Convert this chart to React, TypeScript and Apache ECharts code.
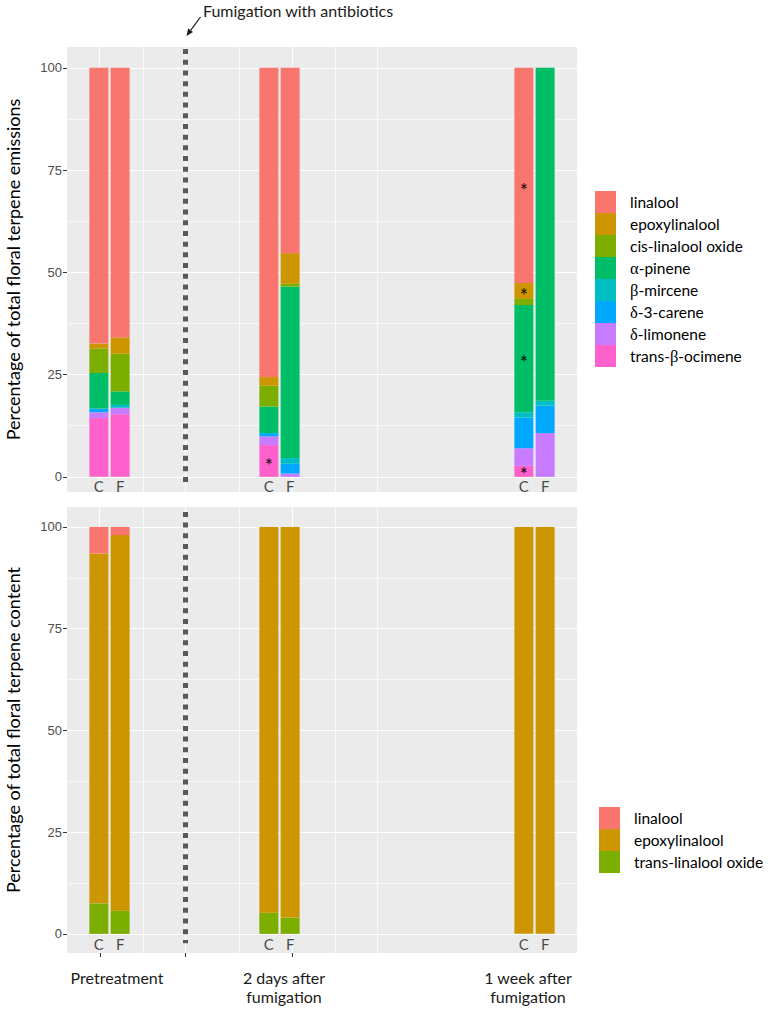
import React, { useEffect, useRef } from "react";
import * as echarts from "echarts";

const FONT = "Lato, 'Open Sans', sans-serif";

// x layout: 24 equal slots across each panel; bars sit in these slots
const slotCount = 24;
const slotNames = Array.from({ length: slotCount }, (_, i) => "s" + i);
const samples = ["C", "F", "C", "F", "C", "F"];
const sampleSlot = [1, 2, 9, 10, 21, 22];
// decorations on a 0..510 value scale spanning each panel
const groupLabels = ["Pretreatment", "2 days after\nfumigation", "1 week after\nfumigation"];
const groupLabelX = [50, 217, 461];
const groupTickX = [33, 118.5, 225];
const majorGridX = [32.5, 118.5, 225.5];
const minorGridX = [76, 172.5, 268, 310];
const fumigationX = 118.5;
const yTicks = [0, 25, 50, 75, 100];
const yMinor = [12.5, 37.5, 62.5, 87.5];

// emissions (top panel), % per sample [preC, preF, 2dC, 2dF, 1wC, 1wF]
const emissionNames = [
  "linalool",
  "epoxylinalool",
  "cis-linalool oxide",
  "α-pinene",
  "β-mircene",
  "δ-3-carene",
  "δ-limonene",
  "trans-β-ocimene",
];
const emissionColors = ["#F8766D", "#CD9600", "#7CAE00", "#00BE67", "#00BFC4", "#00A9FF", "#C77CFF", "#FF61CC"];
const emLinalool = [67.4, 65.9, 75.6, 45.3, 52.6, 0];
const emEpoxylinalool = [1.2, 4.0, 2.1, 7.5, 3.9, 0];
const emCisOxide = [6.0, 9.2, 5.1, 0.7, 1.5, 0];
const emPinene = [8.7, 3.3, 6.5, 41.9, 26.2, 81.4];
const emMircene = [0, 0.7, 0, 1.4, 1.3, 1.2];
const emCarene = [0.9, 0, 0.8, 2.4, 7.5, 6.7];
const emLimonene = [1.4, 1.6, 2.1, 0.8, 4.3, 10.7];
const emOcimene = [14.4, 15.3, 7.8, 0, 2.7, 0];
const emissionValues = [emLinalool, emEpoxylinalool, emCisOxide, emPinene, emMircene, emCarene, emLimonene, emOcimene];

// significance asterisks (top panel): slot and height
const starSlot = [9, 21, 21, 21, 21];
const starY = [4.0, 71.0, 45.4, 29.0, 1.6];

// content (bottom panel)
const contentNames = ["linalool", "epoxylinalool", "trans-linalool oxide"];
const contentColors = ["#F8766D", "#CD9600", "#7CAE00"];
const ctLinalool = [6.5, 2.0, 0, 0, 0, 0];
const ctEpoxylinalool = [86.0, 92.3, 94.8, 96.0, 100, 100];
const ctTransOxide = [7.5, 5.7, 5.2, 4.0, 0, 0];
const contentValues = [ctLinalool, ctEpoxylinalool, ctTransOxide];

function toSlots(values: number[]) {
  const out: any[] = Array(slotCount).fill("-");
  values.forEach((v, j) => {
    out[sampleSlot[j]] = v;
  });
  return out;
}

const white = (w: number) => ({ color: "#ffffff", width: w, type: "solid" as const });

const gridLines = [
  ...yMinor.map((v) => ({ yAxis: v, lineStyle: white(0.6) })),
  ...minorGridX.map((v) => ({ xAxis: v, lineStyle: white(0.7) })),
  ...yTicks.map((v) => ({ yAxis: v, lineStyle: white(1.2) })),
  ...majorGridX.map((v) => ({ xAxis: v, lineStyle: white(1.1) })),
];

function decoSeries(xIdx: number, yIdx: number, dotTop: number, dotBottom: number) {
  return [
    {
      type: "scatter",
      xAxisIndex: xIdx,
      yAxisIndex: yIdx,
      data: [],
      silent: true,
      z: 1,
      markLine: {
        silent: true,
        z: 1,
        symbol: "none",
        animation: false,
        label: { show: false },
        emphasis: { disabled: true },
        data: gridLines,
      },
    },
    {
      type: "scatter",
      xAxisIndex: xIdx,
      yAxisIndex: yIdx,
      data: [],
      silent: true,
      z: 6,
      markLine: {
        silent: true,
        z: 6,
        symbol: "none",
        animation: false,
        label: { show: false },
        emphasis: { disabled: true },
        lineStyle: { color: "#595959", width: 5, type: [5, 5.7], cap: "butt" },
        data: [[{ coord: [fumigationX, dotTop] }, { coord: [fumigationX, dotBottom] }]],
      },
    },
  ];
}

function yAxisOf(grid: number, min: number, max: number, name: string) {
  return {
    type: "value",
    gridIndex: grid,
    min,
    max,
    splitLine: { show: false },
    axisLine: { show: false },
    axisTick: { show: true, customValues: yTicks, length: 4, lineStyle: { color: "#333333", width: 1 } },
    axisLabel: {
      customValues: yTicks,
      color: "#4D4D4D",
      fontSize: 13,
      fontFamily: "'Liberation Sans', Arial, sans-serif",
      margin: 5,
    },
    name,
    nameLocation: "middle",
    nameGap: 45,
    nameRotate: 90,
    nameTextStyle: { fontSize: 18, fontFamily: FONT, color: "#000000" },
  };
}

function sampleLabelSeries(xIdx: number, yIdx: number, y: number) {
  return {
    type: "scatter",
    xAxisIndex: xIdx,
    yAxisIndex: yIdx,
    symbolSize: 1,
    itemStyle: { color: "transparent" },
    silent: true,
    z: 5,
    label: {
      show: true,
      position: "inside",
      formatter: (p: any) => samples[p.dataIndex],
      fontSize: 15,
      lineHeight: 12,
      fontFamily: FONT,
      color: "#1a1a1a",
    },
    data: sampleSlot.map((s) => [s, y]),
  };
}

function categoryAxis(grid: number) {
  return {
    type: "category",
    gridIndex: grid,
    data: slotNames,
    boundaryGap: true,
    position: "top",
    show: false,
  };
}

function buildOption() {
  const series: any[] = [];
  // top panel stacked bars: bottom-most first
  for (let k = emissionNames.length - 1; k >= 0; k--) {
    series.push({
      type: "bar",
      name: emissionNames[k],
      xAxisIndex: 0,
      yAxisIndex: 0,
      stack: "emission",
      barWidth: 19,
      itemStyle: { color: emissionColors[k] },
      emphasis: { disabled: true },
      data: toSlots(emissionValues[k]),
    });
  }
  for (let k = contentNames.length - 1; k >= 0; k--) {
    series.push({
      type: "bar",
      name: contentNames[k],
      xAxisIndex: 2,
      yAxisIndex: 1,
      stack: "content",
      barWidth: 19,
      itemStyle: { color: contentColors[k] },
      emphasis: { disabled: true },
      data: toSlots(contentValues[k]),
    });
  }
  series.push(...decoSeries(1, 0, 104.6, -1.3));
  series.push(...decoSeries(3, 1, 103.7, -2.3));
  series.push(sampleLabelSeries(0, 0, -2.3));
  series.push(sampleLabelSeries(2, 1, -2.5));
  series.push({
    type: "scatter",
    xAxisIndex: 0,
    yAxisIndex: 0,
    symbolSize: 1,
    itemStyle: { color: "transparent" },
    silent: true,
    z: 5,
    label: {
      show: true,
      position: "inside",
      formatter: "*",
      fontSize: 18,
      fontWeight: "bold",
      lineHeight: 8,
      fontFamily: FONT,
      color: "#000000",
      offset: [0, 4],
    },
    data: starSlot.map((s, i) => [s, starY[i]]),
  });

  const legendCommon = {
    orient: "vertical",
    itemWidth: 21,
    itemHeight: 22,
    itemGap: 0,
    padding: 0,
    icon: "rect",
    selectedMode: false,
    formatter: (name: string) => name.replace(/([αβδ])/g, "{g|$1}"),
    textStyle: {
      fontSize: 15.5,
      fontFamily: FONT,
      color: "#000000",
      padding: [0, 0, 0, 9],
      rich: { g: { fontFamily: "'Liberation Serif', 'Times New Roman', serif", fontSize: 16.5, color: "#000000" } },
    },
  };

  const gridCommon = {
    left: 67,
    width: 510,
    show: true,
    backgroundColor: "#EBEBEB",
    borderWidth: 0,
    containLabel: false,
    outerBoundsMode: "none",
  };

  return {
    animation: false,
    backgroundColor: "#ffffff",
    grid: [
      { ...gridCommon, top: 47, height: 445 },
      { ...gridCommon, top: 507, height: 446 },
    ],
    xAxis: [
      categoryAxis(0),
      { type: "value", gridIndex: 0, min: 0, max: 510, position: "bottom", show: false, splitLine: { show: false } },
      categoryAxis(1),
      {
        type: "value",
        gridIndex: 1,
        min: 0,
        max: 510,
        position: "bottom",
        splitLine: { show: false },
        axisLine: { show: false },
        axisTick: { show: true, customValues: groupTickX, length: 4, lineStyle: { color: "#333333", width: 1 } },
        axisLabel: {
          show: true,
          customValues: groupLabelX,
          formatter: (v: number) => {
            const i = groupLabelX.indexOf(Number(v));
            return i >= 0 ? groupLabels[i] : "";
          },
          fontSize: 16,
          fontFamily: FONT,
          color: "#1a1a1a",
          lineHeight: 19,
          margin: 15,
        },
      },
    ],
    yAxis: [
      yAxisOf(0, -3.7, 105.1, "Percentage of total floral terpene emissions"),
      yAxisOf(1, -4.7, 104.9, "Percentage of total floral terpene content"),
    ],
    legend: [
      { ...legendCommon, data: emissionNames, left: 595, top: 191 },
      { ...legendCommon, data: contentNames, left: 599, top: 807 },
    ],
    graphic: [
      {
        type: "text",
        x: 203,
        y: 10,
        style: {
          text: "Fumigation with antibiotics",
          fontSize: 16,
          fontFamily: FONT,
          fill: "#1a1a1a",
          align: "left",
          verticalAlign: "middle",
        },
      },
      {
        type: "line",
        shape: { x1: 200.5, y1: 17, x2: 190.6, y2: 30.3 },
        style: { stroke: "#1a1a1a", lineWidth: 1.2 },
      },
      {
        type: "polygon",
        shape: { points: [[186.5, 36], [193.0, 32.0], [188.1, 28.6]] },
        style: { fill: "#1a1a1a" },
      },
    ],
    series,
  };
}

export default function App() {
  const ref = useRef<HTMLDivElement>(null);
  useEffect(() => {
    document.body.style.margin = "0";
    const chart = echarts.init(ref.current!, null, { renderer: "svg" });
    chart.setOption(buildOption() as any);
    return () => chart.dispose();
  }, []);
  return <div ref={ref} style={{ width: 768, height: 1009 }} />;
}
